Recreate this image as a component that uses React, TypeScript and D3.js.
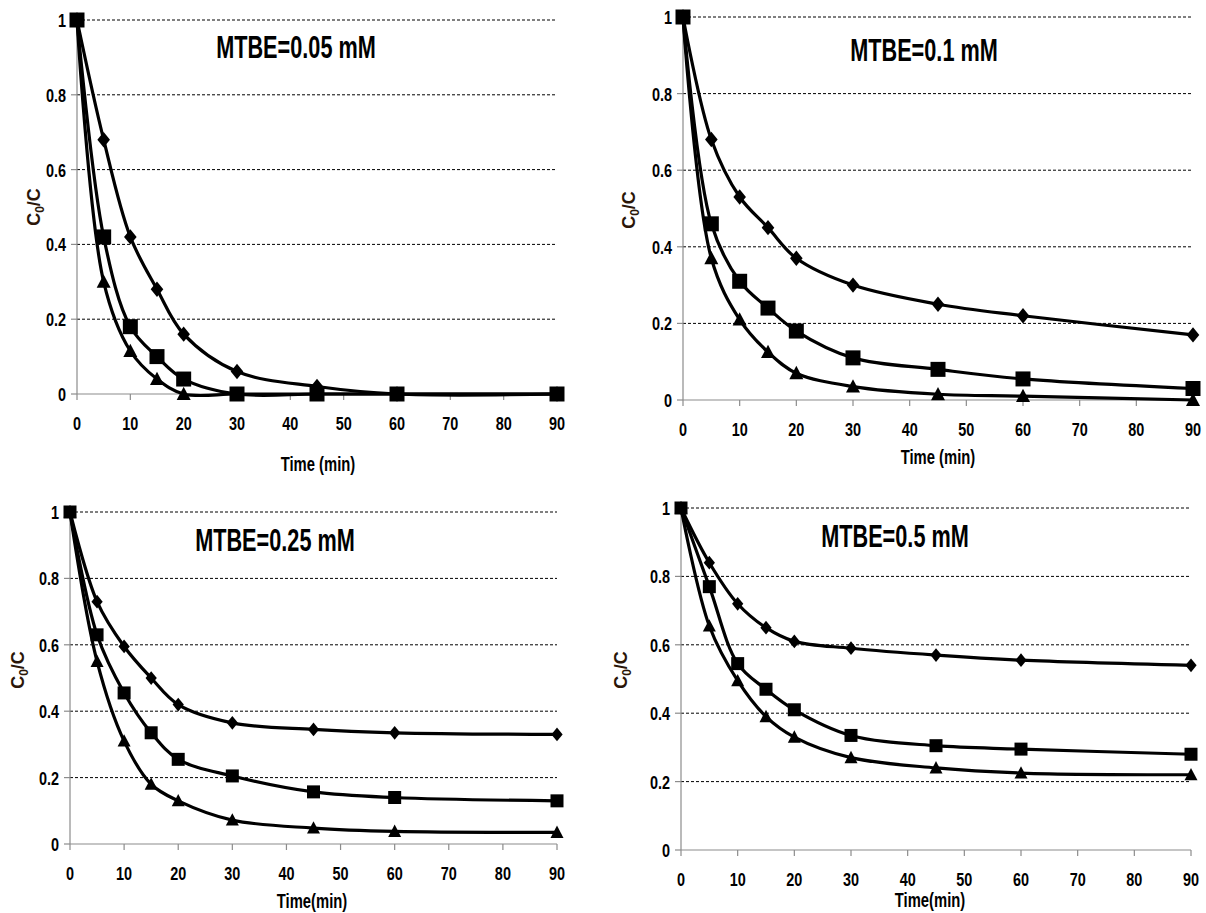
import React from "react";
import * as d3 from "d3";

// sampling times (min)
const times = [0, 5, 10, 15, 20, 30, 45, 60, 90];
const xTicks = [0, 10, 20, 30, 40, 50, 60, 70, 80, 90];
const yTicks = [0, 0.2, 0.4, 0.6, 0.8, 1];
const yTickLabels = ["0", "0.2", "0.4", "0.6", "0.8", "1"];

// MTBE = 0.05 mM
const p1Diamond = [1, 0.68, 0.42, 0.28, 0.16, 0.06, 0.02, 0, 0];
const p1Square = [1, 0.42, 0.18, 0.1, 0.04, 0, 0, 0, 0];
const p1Triangle = [1, 0.3, 0.115, 0.04, 0, 0, 0, 0, 0];

// MTBE = 0.1 mM
const p2Diamond = [1, 0.68, 0.53, 0.45, 0.37, 0.3, 0.25, 0.22, 0.17];
const p2Square = [1, 0.46, 0.31, 0.24, 0.18, 0.11, 0.08, 0.055, 0.03];
const p2Triangle = [1, 0.37, 0.21, 0.125, 0.07, 0.035, 0.015, 0.01, 0];

// MTBE = 0.25 mM
const p3Diamond = [1, 0.73, 0.595, 0.5, 0.42, 0.365, 0.345, 0.335, 0.33];
const p3Square = [1, 0.63, 0.455, 0.335, 0.255, 0.205, 0.157, 0.14, 0.13];
const p3Triangle = [1, 0.55, 0.31, 0.18, 0.13, 0.072, 0.048, 0.038, 0.035];

// MTBE = 0.5 mM
const p4Diamond = [1, 0.84, 0.72, 0.65, 0.61, 0.59, 0.57, 0.555, 0.54];
const p4Square = [1, 0.77, 0.545, 0.47, 0.41, 0.335, 0.305, 0.295, 0.28];
const p4Triangle = [1, 0.655, 0.495, 0.39, 0.33, 0.27, 0.24, 0.225, 0.22];

const FONT = "'Liberation Sans', Arial, sans-serif";

// squeezed text, to get the condensed look of the original
function NText({ x, y, size, anchor = "middle", rotate = 0, sx = 0.8, fill = "#000", children }) {
  return (
    <text
      transform={`translate(${x},${y}) rotate(${rotate}) scale(${sx},1)`}
      textAnchor={anchor}
      fontFamily={FONT}
      fontWeight="bold"
      fontSize={size}
      fill={fill}
    >
      {children}
    </text>
  );
}

function markerPath(kind, s) {
  if (kind === "diamond") {
    const w = s * 0.45, h = s * 0.55;
    return `M0,${-h}L${w},0L0,${h}L${-w},0Z`;
  }
  if (kind === "square") {
    const h = s / 2;
    return `M${-h},${-h}H${h}V${h}H${-h}Z`;
  }
  const h = s * 0.5;
  return `M0,${-h * 1.05}L${h},${h * 0.85}L${-h},${h * 0.85}Z`;
}

function Panel({ box, title, titleX, titleY, xLabel, xLabelX, xLabelY, yLabelX, yLabelY, series, sizes }) {
  const x = d3.scaleLinear().domain([0, 90]).range([box.x0, box.x1]);
  const y = d3.scaleLinear().domain([0, 1]).range([box.y0, box.y1]);
  const line = d3
    .line()
    .x((d) => x(d[0]))
    .y((d) => y(d[1]))
    .curve(d3.curveCatmullRom.alpha(0.5));

  return (
    <g>
      {/* gridlines */}
      {yTicks.filter((t) => t > 0).map((t) => (
        <line key={"g" + t} x1={x(0)} x2={x(90)} y1={y(t)} y2={y(t)} stroke="#000" strokeWidth={1} strokeDasharray="3,2" />
      ))}
      {/* axes */}
      <line x1={x(0)} x2={x(0)} y1={y(0)} y2={y(1)} stroke="#8c8c8c" strokeWidth={1.2} />
      <line x1={x(0)} x2={x(90)} y1={y(0)} y2={y(0)} stroke="#8c8c8c" strokeWidth={1.2} />
      {yTicks.map((t) => (
        <line key={"yt" + t} x1={x(0) - 6} x2={x(0)} y1={y(t)} y2={y(t)} stroke="#8c8c8c" strokeWidth={1.2} />
      ))}
      {xTicks.map((t) => (
        <line key={"xt" + t} x1={x(t)} x2={x(t)} y1={y(0)} y2={y(0) + 6} stroke="#8c8c8c" strokeWidth={1.2} />
      ))}
      {yTicks.map((t, i) => (
        <NText key={"yl" + t} x={x(0) - 11} y={y(t) + 7} size={19} anchor="end" sx={0.76}>
          {yTickLabels[i]}
        </NText>
      ))}
      {xTicks.map((t) => (
        <NText key={"xl" + t} x={x(t)} y={y(0) + 36} size={19} sx={0.76}>
          {t}
        </NText>
      ))}
      {/* series */}
      {series.map((s) => {
        const pts = times.map((t, i) => [t, s.values[i]]);
        return (
          <g key={s.kind}>
            <path d={line(pts)} fill="none" stroke="#000" strokeWidth={3.2} />
            {pts.map((p, i) => (
              <path key={i} d={markerPath(s.kind, sizes[s.kind])} transform={`translate(${x(p[0])},${y(p[1])})`} fill="#000" />
            ))}
          </g>
        );
      })}
      <NText x={titleX} y={titleY} size={31} sx={0.7}>{title}</NText>
      <NText x={xLabelX} y={xLabelY} size={20} sx={0.74}>{xLabel}</NText>
      <NText x={yLabelX} y={yLabelY} size={18} rotate={-90} sx={1} fill="#2b1608">
        C<tspan fontSize={12} dy={4}>0</tspan>
        <tspan dy={-4}>/C</tspan>
      </NText>
    </g>
  );
}

export default function App() {
  const bigSizes = { diamond: 14, square: 15, triangle: 14 };
  const smallSizes = { diamond: 12.5, square: 13, triangle: 13 };
  return (
    <svg width={1206} height={913} style={{ position: "absolute", left: 0, top: 0, background: "#fff" }}>
      <rect width={1206} height={913} fill="#fff" />
      <Panel
        box={{ x0: 77, x1: 557, y0: 394, y1: 20 }}
        title="MTBE=0.05 mM" titleX={296} titleY={58}
        xLabel="Time (min)" xLabelX={318} xLabelY={471}
        yLabelX={40} yLabelY={207}
        series={[
          { kind: "diamond", values: p1Diamond },
          { kind: "square", values: p1Square },
          { kind: "triangle", values: p1Triangle },
        ]}
        sizes={bigSizes}
      />
      <Panel
        box={{ x0: 683, x1: 1193, y0: 400, y1: 17 }}
        title="MTBE=0.1 mM" titleX={924} titleY={61}
        xLabel="Time (min)" xLabelX={938} xLabelY={464}
        yLabelX={635} yLabelY={210}
        series={[
          { kind: "diamond", values: p2Diamond },
          { kind: "square", values: p2Square },
          { kind: "triangle", values: p2Triangle },
        ]}
        sizes={bigSizes}
      />
      <Panel
        box={{ x0: 70, x1: 557, y0: 844, y1: 512 }}
        title="MTBE=0.25 mM" titleX={275} titleY={551}
        xLabel="Time(min)" xLabelX={312} xLabelY={908}
        yLabelX={24} yLabelY={670}
        series={[
          { kind: "diamond", values: p3Diamond },
          { kind: "square", values: p3Square },
          { kind: "triangle", values: p3Triangle },
        ]}
        sizes={smallSizes}
      />
      <Panel
        box={{ x0: 681, x1: 1191, y0: 850, y1: 508 }}
        title="MTBE=0.5 mM" titleX={895} titleY={547}
        xLabel="Time(min)" xLabelX={930} xLabelY={907}
        yLabelX={627} yLabelY={670}
        series={[
          { kind: "diamond", values: p4Diamond },
          { kind: "square", values: p4Square },
          { kind: "triangle", values: p4Triangle },
        ]}
        sizes={smallSizes}
      />
    </svg>
  );
}
